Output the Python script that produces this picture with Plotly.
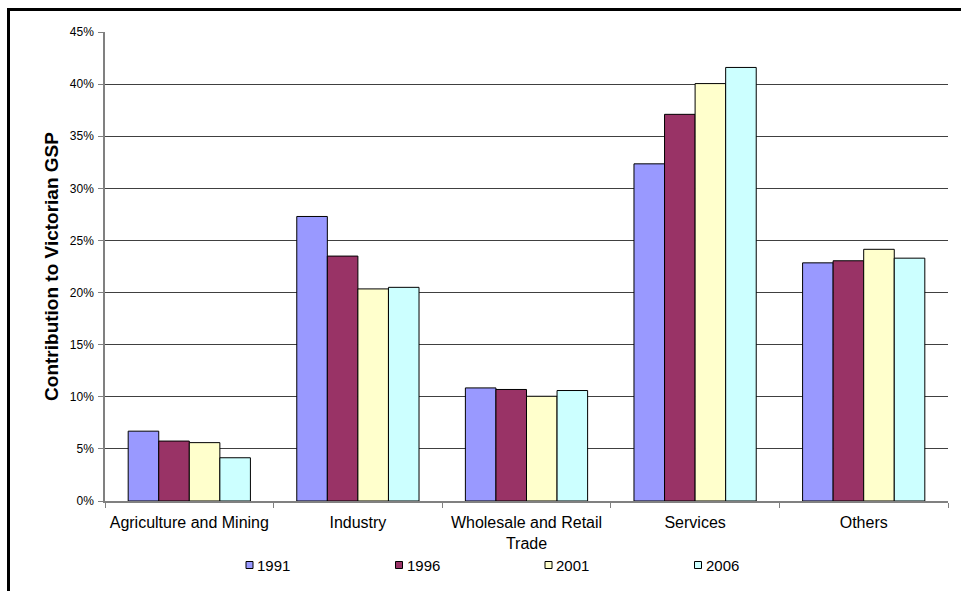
import plotly.graph_objects as go

# Share of Victorian Gross State Product by sector (%)
categories = ["Agriculture and Mining", "Industry", "Wholesale and Retail<br>Trade", "Services", "Others"]
years = ["1991", "1996", "2001", "2006"]
share_1991 = [6.7, 27.3, 10.85, 32.35, 22.85]
share_1996 = [5.75, 23.5, 10.7, 37.1, 23.05]
share_2001 = [5.6, 20.35, 10.05, 40.05, 24.15]
share_2006 = [4.15, 20.5, 10.6, 41.6, 23.3]
series = [share_1991, share_1996, share_2001, share_2006]
colors = ["#9999FF", "#993366", "#FFFFCC", "#CCFFFF"]

W, H = 961, 591
ML, MR, MT, MB = 105, 13, 32, 90
PW, PH = W - ML - MR, H - MT - MB
FONT = "Arial, Liberation Sans, sans-serif"


def px_to_paper_x(px):
    return (px - ML) / PW


def px_to_paper_y(py):
    return (H - MB - py) / PH


fig = go.Figure()
for year, vals, col in zip(years, series, colors):
    fig.add_trace(go.Bar(
        name=year, x=categories, y=vals,
        marker=dict(color=col, line=dict(color="#000000", width=1)),
        showlegend=False,
    ))

# Key row beneath the category labels: small outlined swatch + year
shapes = []
annotations = []
for i, (year, col) in enumerate(zip(years, colors)):
    sx = 246 + i * 149.5
    sy = 565
    shapes.append(dict(
        type="rect", xref="paper", yref="paper",
        x0=px_to_paper_x(sx), x1=px_to_paper_x(sx + 7),
        y0=px_to_paper_y(sy + 3.5), y1=px_to_paper_y(sy - 3.5),
        fillcolor=col, line=dict(color="#000000", width=1),
    ))
    annotations.append(dict(
        text=year, xref="paper", yref="paper",
        x=px_to_paper_x(sx + 9), y=px_to_paper_y(sy),
        xanchor="left", yanchor="middle", showarrow=False,
        font=dict(family=FONT, size=15, color="#000000"),
    ))

# Outer chart frame
shapes.append(dict(
    type="rect", xref="paper", yref="paper", layer="above",
    x0=px_to_paper_x(8.5), x1=px_to_paper_x(975),
    y0=px_to_paper_y(605), y1=px_to_paper_y(9.5),
    line=dict(color="#000000", width=3), fillcolor="rgba(0,0,0,0)",
))

fig.update_layout(
    width=W, height=H,
    margin=dict(l=ML, r=MR, t=MT, b=MB),
    paper_bgcolor="white", plot_bgcolor="white",
    barmode="group", bargap=0.275, bargroupgap=0,
    font=dict(family=FONT, size=13, color="#000000"),
    showlegend=False,
    xaxis=dict(
        type="category", tickson="boundaries",
        ticks="outside", ticklen=5, tickcolor="#808080",
        showline=True, linecolor="#808080", linewidth=1.5,
        showgrid=False, tickfont=dict(size=16),
        ticklabelstandoff=6,
    ),
    yaxis=dict(
        range=[0, 45], dtick=5, ticksuffix="%",
        ticks="outside", ticklen=5, tickcolor="#808080",
        showline=True, linecolor="#808080", linewidth=1.5,
        showgrid=True, gridcolor="#404040", gridwidth=1,
        zeroline=False, tickfont=dict(size=12),
        ticklabelstandoff=2,
        title=dict(text="<b>Contribution to Victorian GSP</b>", font=dict(size=19), standoff=6),
    ),
    shapes=shapes,
    annotations=annotations,
)

fig.write_html("out.html")
